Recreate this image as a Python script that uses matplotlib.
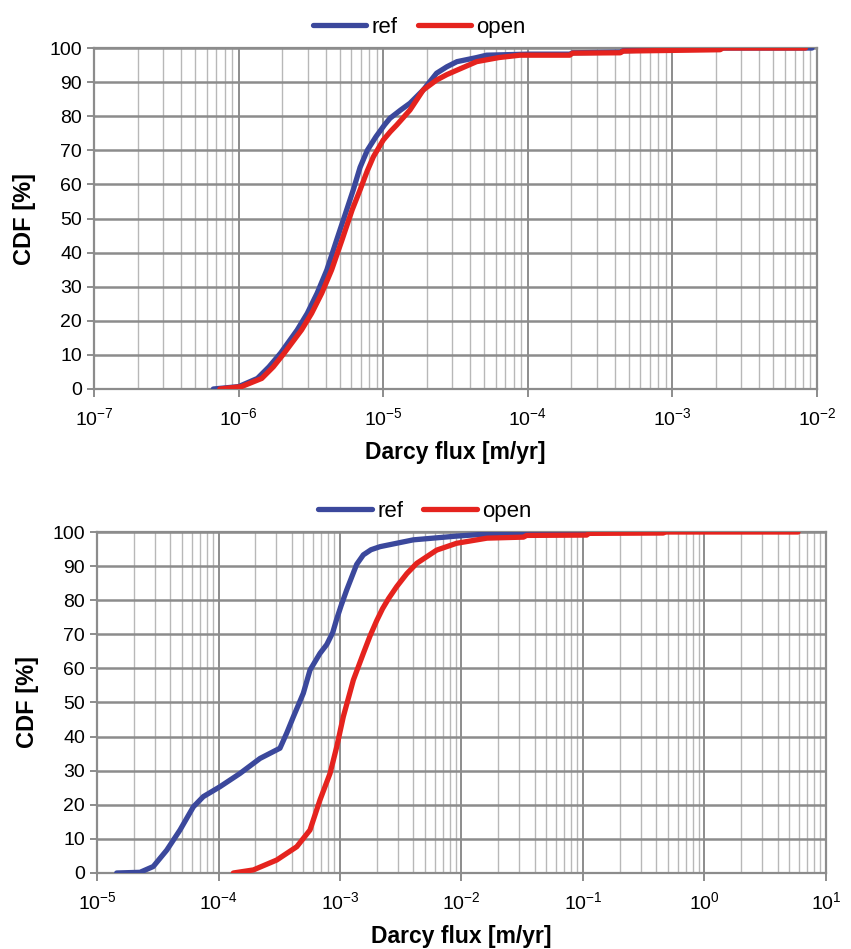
import numpy as np
import matplotlib
matplotlib.use("Agg")
import matplotlib.pyplot as plt
from matplotlib.ticker import LogLocator, NullFormatter, FixedLocator

plt.rcParams['font.family'] = ['Liberation Sans', 'DejaVu Sans']
plt.rcParams['mathtext.fontset'] = 'custom'
plt.rcParams['mathtext.rm'] = 'Liberation Sans'
plt.rcParams['mathtext.it'] = 'Liberation Sans'

# top panel: log10 of Darcy flux vs CDF
top_ref_logq = [-6.175, -6.0, -5.87, -5.79, -5.71, -5.595, -5.525, -5.457, -5.39,
                -5.322, -5.253, -5.207, -5.16, -5.11, -5.05, -4.99, -4.953, -4.88, -4.815,
                -4.723, -4.631, -4.56, -4.49, -4.354, -4.285, -4.0, -3.71, -3.69, -3.36,
                -3.34, -2.72, -2.034]
top_ref_cdf = [0, 0.7, 3.1, 6.5, 10.5, 17.3, 22.2, 28.1, 34.9,
               43.7, 52.5, 58.4, 65, 70, 74, 77.5, 79.4, 81.8, 83.8,
               87.7, 92.6, 94.5, 96, 97.2, 97.9, 98.2, 98.2, 98.6, 98.8,
               99.2, 100, 100]

top_open_logq = [-6.13, -5.98, -5.84, -5.76, -5.685, -5.565, -5.495, -5.425, -5.357,
                 -5.285, -5.215, -5.16, -5.11, -5.068, -5.0, -4.95, -4.907, -4.815,
                 -4.723, -4.631, -4.56, -4.49, -4.354, -4.2, -4.054, -3.71, -3.69,
                 -3.36, -3.34, -2.67, -2.65, -2.08]
top_open_cdf = [0, 0.7, 3.1, 6.5, 10.5, 17.3, 22.2, 28.1, 34.9,
                43.7, 52.5, 58.4, 64, 68.1, 73, 75.5, 77.4, 81.8,
                87.7, 90.6, 92.2, 93.5, 96, 97.2, 97.9, 97.9, 98.5,
                98.6, 99.1, 99.5, 100, 100]

# bottom panel
bot_ref_logq = [-4.838, -4.646, -4.537, -4.426, -4.317, -4.207, -4.125, -3.988, -3.823,
                -3.658, -3.494, -3.439, -3.384, -3.302, -3.247, -3.165, -3.109, -3.06,
                -3.027, -2.99, -2.945, -2.863, -2.808, -2.745, -2.671, -2.397, -2.04,
                -1.71, -1.25, -0.517]
bot_ref_cdf = [0, 0.2, 1.9, 6.7, 12.6, 19.4, 22.4, 25.3, 29.2,
               33.6, 36.6, 41, 45.8, 52.7, 59.5, 64.4, 67, 70.5,
               74.5, 78.5, 83, 90.5, 93.3, 94.8, 95.7, 97.7, 98.8,
               99.6, 100, 100]

bot_open_logq = [-3.878, -3.713, -3.521, -3.356, -3.247, -3.165, -3.082, -3.027, -2.973,
                 -2.89, -2.808, -2.753, -2.698, -2.65, -2.6, -2.533, -2.45, -2.369,
                 -2.204, -2.04, -1.79, -1.49, -1.464, -0.97, -0.95, -0.34, -0.32, 0.77]
bot_open_cdf = [0, 0.9, 3.8, 7.7, 12.6, 21.4, 29.2, 37, 45.8,
                56.6, 64.4, 69.5, 74, 77.5, 80.5, 84, 87.8, 90.8,
                94.7, 96.7, 98.2, 98.5, 99, 99.1, 99.6, 99.7, 100, 100]

top_decades = [-7, -2]
bot_decades = [-5, 1]

blue = '#3b489c'
red = '#e5231e'

fig = plt.figure(figsize=(8.51, 9.49), dpi=100)
ax1 = fig.add_axes([0.1105, 0.5901, 0.8495, 0.3593])
ax2 = fig.add_axes([0.1140, 0.0801, 0.8566, 0.3593])

panels = [
    (ax1, top_ref_logq, top_ref_cdf, top_open_logq, top_open_cdf, top_decades),
    (ax2, bot_ref_logq, bot_ref_cdf, bot_open_logq, bot_open_cdf, bot_decades),
]

for ax, rq, rc, oq, oc, dec in panels:
    ax.plot(10 ** np.array(rq), rc, color=blue, lw=3.8, solid_capstyle='round',
            solid_joinstyle='round', label='ref', zorder=3)
    ax.plot(10 ** np.array(oq), oc, color=red, lw=3.8, solid_capstyle='round',
            solid_joinstyle='round', label='open', zorder=4)
    ax.set_xscale('log')
    ax.set_xlim(10.0 ** dec[0], 10.0 ** dec[1])
    ax.set_ylim(0, 100)
    ax.yaxis.set_major_locator(FixedLocator(range(0, 101, 10)))
    majors = [10.0 ** k for k in range(dec[0], dec[1] + 1)]
    ax.xaxis.set_major_locator(FixedLocator(majors))
    ax.set_xticklabels([r'$10^{%d}$' % k for k in range(dec[0], dec[1] + 1)])
    ax.xaxis.set_minor_locator(LogLocator(base=10, subs=np.arange(2, 10), numticks=20))
    ax.xaxis.set_minor_formatter(NullFormatter())
    ax.grid(which='major', axis='y', color='#8c8c8c', lw=1.8)
    ax.grid(which='major', axis='x', color='#8c8c8c', lw=1.4)
    ax.grid(which='minor', axis='x', color='#b8b8b8', lw=1.0)
    ax.set_axisbelow(True)
    for s in ['top', 'right', 'left', 'bottom']:
        ax.spines[s].set_color('#8c8c8c')
        ax.spines[s].set_linewidth(1.6)
    ax.tick_params(axis='x', which='major', length=6, width=1.4, color='#8c8c8c', labelsize=14, pad=7)
    ax.tick_params(axis='x', which='minor', length=0)
    ax.tick_params(axis='y', length=5, width=1.4, color='#8c8c8c', labelsize=14)
    ax.set_xlabel('Darcy flux [m/yr]', fontsize=16.5, fontweight='bold', labelpad=9)
    ax.set_ylabel('CDF [%]', fontsize=17, fontweight='bold', labelpad=10)
    ax.legend(loc='lower center', bbox_to_anchor=(0.45, 1.0), ncol=2, frameon=False,
              fontsize=16, handlelength=2.4, handletextpad=0.25, columnspacing=0.9,
              borderaxespad=0.05)

fig.savefig('out.png', dpi=100)
